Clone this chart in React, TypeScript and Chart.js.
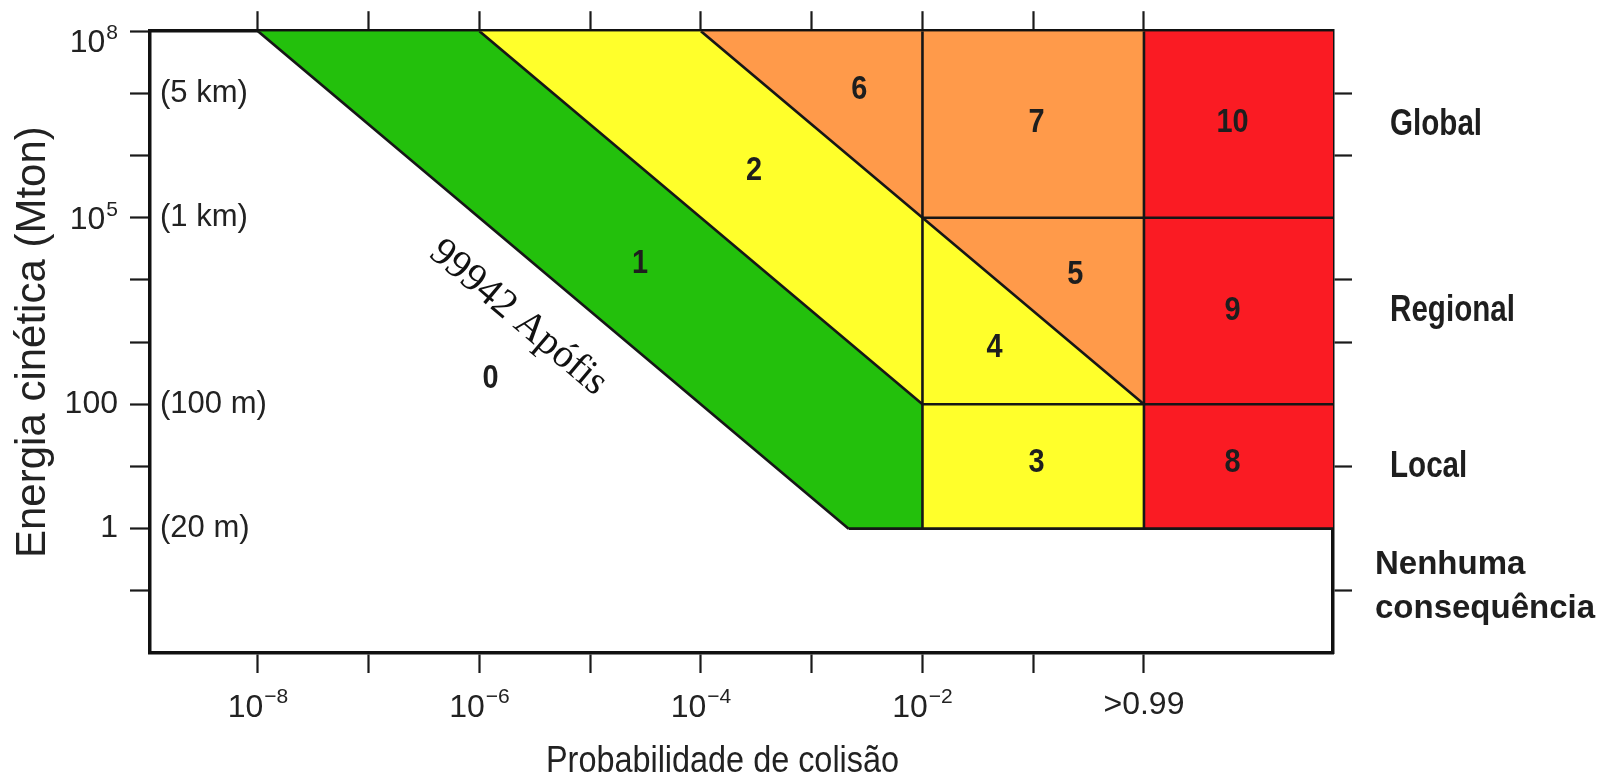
import { useEffect, useRef } from 'react';
import { Chart, registerables } from 'chart.js';

Chart.register(...registerables);

// ---- axis limits (log10 of probability, log10 of energy in Mton) ----
const X_MIN = -8.975;
const X_MAX = 1.707;
const Y_MIN = -2;
const Y_MAX = 8;

// ---- ticks ----
const probTicks = [-8, -7, -6, -5, -4, -3, -2, -1, 0];
const probLabels = ['10⁻⁸', '', '10⁻⁶', '', '10⁻⁴', '', '10⁻²', '', '>0.99'];

const energyTicks = [-1, 0, 1, 2, 3, 4, 5, 6, 7, 7.85, 8];
const energyLabels = ['', '1', '', '100', '', '', '10⁵', '', '', '10⁸', ''];
const energyTickMarks = [true, true, true, true, true, true, true, true, true, false, true];

const rightTicks = [-1, 1, 3, 4, 6, 7];

// ---- titles ----
const xTitle = 'Probabilidade de colisão';
const yTitle = 'Energia cinética (Mton)';

// ---- side annotations ----
const sizeLabels = ['(5 km)', '(1 km)', '(100 m)', '(20 m)'];
const sizeLabelEnergy = [7, 5, 2, 0];

const consequenceLabels = [['Global'], ['Regional'], ['Local'], ['Nenhuma', 'consequência']];
const consequenceEnergy = [6.5, 3.5, 1, -1];

// ---- Torino scale numbers ----
const torinoValues = ['0', '1', '2', '3', '4', '5', '6', '7', '8', '9', '10'];
const torinoProb = [-5.9, -4.55, -3.52, -0.97, -1.35, -0.62, -2.57, -0.97, 0.8, 0.8, 0.8];
const torinoEnergy = [2.42, 4.27, 5.76, 1.06, 2.91, 4.08, 7.06, 6.53, 1.06, 3.5, 6.53];

// ---- zones ----
const greenZone = [
  { x: -8, y: 8 }, { x: -6, y: 8 }, { x: -2, y: 2 }, { x: -2, y: 0 }, { x: -2.667, y: 0 },
];
const yellowZone = [
  { x: -6, y: 8 }, { x: -4, y: 8 }, { x: 0, y: 2 }, { x: 0, y: 0 }, { x: -2, y: 0 }, { x: -2, y: 2 },
];
const orangeZone = [{ x: -4, y: 8 }, { x: 0, y: 8 }, { x: 0, y: 2 }];
const redZone = [{ x: 0, y: 8 }, { x: X_MAX, y: 8 }, { x: X_MAX, y: 0 }, { x: 0, y: 0 }];

const boundaryLines = [
  [{ x: -8, y: 8 }, { x: -2.667, y: 0 }],
  [{ x: -6, y: 8 }, { x: -2, y: 2 }],
  [{ x: -4, y: 8 }, { x: 0, y: 2 }],
  [{ x: -2, y: 8 }, { x: -2, y: 0 }],
  [{ x: 0, y: 8 }, { x: 0, y: 0 }],
  [{ x: -2, y: 5 }, { x: X_MAX, y: 5 }],
  [{ x: -2, y: 2 }, { x: X_MAX, y: 2 }],
  [{ x: -2.667, y: 0 }, { x: X_MAX, y: 0 }],
];

const apophisLabel = '99942 Apófis';
const apophisProb = -5.65;
const apophisEnergy = 3.39;

const GREEN = '#23C00C';
const YELLOW = '#FFFF2B';
const ORANGE = '#FF9A4A';
const RED = '#FA1B23';

const SANS = '"Liberation Sans", Arial, Helvetica, sans-serif';
const INK = '#1e1e1e';
const TICK_FONT = 32;

const SUP: Record<string, string> = {
  '⁻': '−', '⁰': '0', '¹': '1', '²': '2', '³': '3', '⁴': '4', '⁵': '5', '⁶': '6', '⁷': '7', '⁸': '8', '⁹': '9',
};
const hasSup = (s: string) => [...s].some((c) => SUP[c] !== undefined);

// draws "10" followed by a raised exponent; (x, y) = anchor, y = middle of the digits
function drawPower(ctx: any, label: string, x: number, y: number, align: 'center' | 'right') {
  const chars = [...label];
  const base = chars.filter((c) => SUP[c] === undefined).join('');
  const exp = chars.filter((c) => SUP[c] !== undefined).map((c) => SUP[c]).join('');
  const baseFont = `${TICK_FONT}px ${SANS}`;
  const expFont = `${Math.round(TICK_FONT * 0.66)}px ${SANS}`;
  ctx.save();
  ctx.textAlign = 'left';
  ctx.textBaseline = 'alphabetic';
  ctx.font = baseFont;
  const wb = ctx.measureText(base).width;
  ctx.font = expFont;
  const we = ctx.measureText(exp).width;
  const w = wb + we + 1;
  const x0 = align === 'center' ? x - w / 2 : x - w;
  const baseline = y + TICK_FONT * 0.36;
  ctx.font = baseFont;
  ctx.fillText(base, x0, baseline);
  ctx.font = expFont;
  ctx.fillText(exp, x0 + wb + 1, baseline - TICK_FONT * 0.42);
  ctx.restore();
}

function drawScaled(ctx: any, text: string, x: number, y: number, font: string, sx: number, align: string) {
  ctx.save();
  ctx.translate(x, y);
  ctx.scale(sx, 1);
  ctx.font = font;
  ctx.textAlign = align;
  ctx.fillText(text, 0, 0);
  ctx.restore();
}

const textPlugin = {
  id: 'torinoText',
  afterDatasetsDraw(chart: any) {
    const { ctx, chartArea } = chart;
    const x = chart.scales.x;
    const y = chart.scales.y;
    ctx.save();
    ctx.textBaseline = 'middle';

    // Torino numbers (bold condensed)
    ctx.fillStyle = INK;
    torinoValues.forEach((t, i) => {
      drawScaled(ctx, t, x.getPixelForValue(torinoProb[i]), y.getPixelForValue(torinoEnergy[i]),
        `bold 34px ${SANS}`, 0.85, 'center');
    });

    // size labels inside the plot
    ctx.fillStyle = '#222';
    ctx.font = `31px ${SANS}`;
    ctx.textAlign = 'left';
    sizeLabels.forEach((t, i) => {
      ctx.fillText(t, chartArea.left + 10, y.getPixelForValue(sizeLabelEnergy[i]));
    });

    // consequence labels on the right
    ctx.fillStyle = INK;
    consequenceLabels.forEach((lines, i) => {
      const py = y.getPixelForValue(consequenceEnergy[i]);
      if (lines.length === 1) {
        drawScaled(ctx, lines[0], chartArea.right + 57, py, `bold 37px ${SANS}`, 0.8, 'left');
      } else {
        ctx.font = `bold 33px ${SANS}`;
        ctx.textAlign = 'left';
        ctx.fillText(lines[0], chartArea.right + 42, py - 26);
        ctx.fillText(lines[1], chartArea.right + 42, py + 18);
      }
    });

    // power-of-ten tick labels (with real superscripts)
    ctx.fillStyle = '#222';
    probLabels.forEach((lab, i) => {
      if (lab && hasSup(lab)) {
        drawPower(ctx, lab, x.getPixelForValue(probTicks[i]), chartArea.bottom + 20 + 13 + 19, 'center');
      }
    });
    energyLabels.forEach((lab, i) => {
      if (lab && hasSup(lab)) {
        drawPower(ctx, lab, chartArea.left - 32, y.getPixelForValue(energyTicks[i]), 'right');
      }
    });

    // x axis title
    ctx.fillStyle = '#222';
    drawScaled(ctx, xTitle, (chartArea.left + chartArea.right) / 2 - 19, chart.height - 22,
      `36px ${SANS}`, 0.9, 'center');

    // Apophis annotation, parallel to the lower boundary line
    const b = boundaryLines[0];
    const ang = Math.atan2(
      y.getPixelForValue(b[1].y) - y.getPixelForValue(b[0].y),
      x.getPixelForValue(b[1].x) - x.getPixelForValue(b[0].x)
    );
    ctx.translate(x.getPixelForValue(apophisProb), y.getPixelForValue(apophisEnergy));
    ctx.rotate(ang);
    ctx.font = '40px "Liberation Serif", "Times New Roman", serif';
    ctx.fillStyle = '#111';
    ctx.textAlign = 'center';
    ctx.fillText(apophisLabel, 0, 0);
    ctx.restore();
  },
};

function zone(data: any[], color: string) {
  return {
    data,
    showLine: true,
    fill: 'shape',
    backgroundColor: color,
    borderWidth: 0,
    pointRadius: 0,
    order: 2,
  };
}

export default function App() {
  const ref = useRef<HTMLCanvasElement | null>(null);

  useEffect(() => {
    if (!ref.current) return;
    const tickGrid = (len: number) => ({
      display: true,
      drawOnChartArea: false,
      drawTicks: true,
      tickLength: len,
      tickWidth: 2.2,
      tickColor: '#1a1a1a',
    });
    const border = { display: true, color: '#111', width: 3.5 };

    const chart = new Chart(ref.current, {
      type: 'scatter',
      data: {
        datasets: [
          zone(greenZone, GREEN),
          zone(yellowZone, YELLOW),
          zone(orangeZone, ORANGE),
          zone(redZone, RED),
          ...boundaryLines.map((seg) => ({
            data: seg,
            showLine: true,
            fill: false,
            borderColor: '#161616',
            borderWidth: 2.6,
            pointRadius: 0,
            order: 1,
          })),
        ] as any,
      },
      options: {
        animation: false,
        responsive: true,
        maintainAspectRatio: false,
        events: [],
        layout: { padding: 0 },
        plugins: { legend: { display: false }, tooltip: { enabled: false } },
        scales: {
          x: {
            type: 'linear',
            position: 'bottom',
            min: X_MIN,
            max: X_MAX,
            bounds: 'data',
            z: 1,
            afterBuildTicks: (s: any) => {
              s.ticks = probTicks.map((v) => ({ value: v }));
            },
            afterFit: (s: any) => {
              s.height = 131;
            },
            ticks: {
              autoSkip: false,
              maxRotation: 0,
              padding: 13,
              color: '#222',
              font: { family: SANS, size: TICK_FONT },
              // superscripted labels are drawn by the text plugin
              callback: (_v: any, i: number) => (hasSup(probLabels[i]) ? '' : probLabels[i]),
            },
            grid: tickGrid(20),
            border,
          },
          x2: {
            type: 'linear',
            axis: 'x',
            position: 'top',
            min: X_MIN,
            max: X_MAX,
            bounds: 'data',
            z: 1,
            afterBuildTicks: (s: any) => {
              s.ticks = probTicks.map((v) => ({ value: v }));
            },
            afterFit: (s: any) => {
              s.height = 28;
            },
            ticks: { autoSkip: false, display: false },
            grid: tickGrid(20),
            border,
          },
          y: {
            type: 'linear',
            position: 'left',
            min: Y_MIN,
            max: Y_MAX,
            bounds: 'data',
            z: 1,
            afterBuildTicks: (s: any) => {
              s.ticks = energyTicks.map((v) => ({ value: v }));
            },
            afterFit: (s: any) => {
              s.width = 150;
            },
            ticks: {
              autoSkip: false,
              padding: 12,
              color: '#222',
              font: { family: SANS, size: TICK_FONT },
              callback: (_v: any, i: number) => (hasSup(energyLabels[i]) ? '' : energyLabels[i]),
            },
            grid: {
              ...tickGrid(20),
              tickColor: (c: any) => (energyTickMarks[c.index] ? '#1a1a1a' : 'rgba(0,0,0,0)'),
            },
            border,
            title: {
              display: true,
              text: yTitle,
              color: '#222',
              font: { family: SANS, size: 42 },
              padding: { top: 8, bottom: 8 },
            },
          },
          y2: {
            type: 'linear',
            axis: 'y',
            position: 'right',
            min: Y_MIN,
            max: Y_MAX,
            bounds: 'data',
            z: 1,
            afterBuildTicks: (s: any) => {
              s.ticks = rightTicks.map((v) => ({ value: v }));
            },
            afterFit: (s: any) => {
              s.width = 265;
            },
            ticks: { autoSkip: false, display: false },
            grid: tickGrid(19),
            border,
          },
        } as any,
      },
      plugins: [textPlugin],
    });
    return () => chart.destroy();
  }, []);

  return (
    <div style={{ position: 'fixed', left: 0, top: 0, width: 1598, height: 784, background: '#fff' }}>
      <canvas ref={ref} />
    </div>
  );
}
